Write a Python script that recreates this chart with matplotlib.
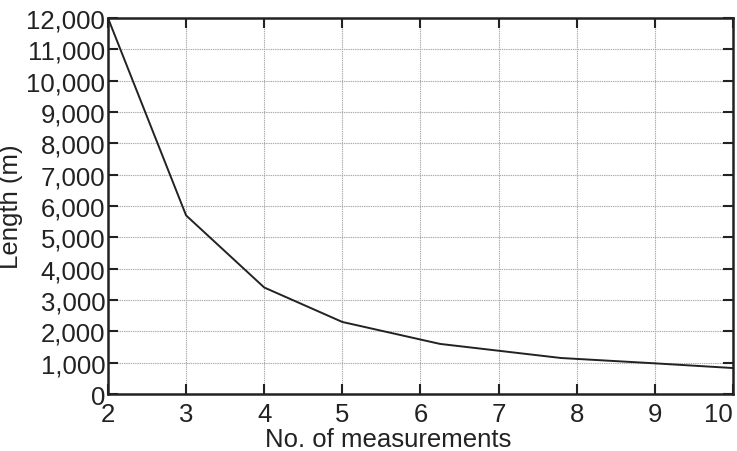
import numpy as np
import matplotlib.pyplot as plt
from matplotlib.ticker import FuncFormatter

# values
n_meas = [2, 3, 4, 5, 6.25, 7.8, 9, 10]
length_m = [12000, 5700, 3400, 2300, 1600, 1150, 980, 830]

x_ticks = [2, 3, 4, 5, 6, 7, 8, 9, 10]
y_ticks = list(range(0, 12001, 1000))

plt.rcParams['font.family'] = ['Liberation Sans', 'DejaVu Sans']

fig = plt.figure(figsize=(7.37, 4.52), dpi=100)
ax = fig.add_axes([0.1465, 0.126, 0.848, 0.832])

ax.plot(n_meas, length_m, color='#222222', lw=1.4, zorder=3)

ax.set_xlim(2, 10)
ax.set_ylim(0, 12000)
ax.set_xticks(x_ticks)
ax.set_yticks(y_ticks)
ax.yaxis.set_major_formatter(FuncFormatter(lambda v, p: f"{int(v):,}"))

ax.grid(True, color='#aaaaaa', linestyle=(0, (1.2, 0.8)), lw=0.8)
ax.tick_params(direction='in', length=7, width=1.5, top=True, right=True,
               labelsize=18.5, colors='#222222')
ax.tick_params(axis='x', pad=6)
ax.tick_params(axis='y', pad=2)
for s in ax.spines.values():
    s.set_linewidth(1.8)
    s.set_color('#222222')

# last x label sits against the right edge like in the original
ax.get_xticklabels()[-1].set_horizontalalignment('right')

ax.set_xlabel("No. of measurements", fontsize=18.5, color='#222222', labelpad=0)
ax.xaxis.set_label_coords(0.448, -0.088)
ax.set_ylabel("Length (m)", fontsize=18.5, color='#222222', labelpad=2)

fig.savefig("out.png", dpi=100)
